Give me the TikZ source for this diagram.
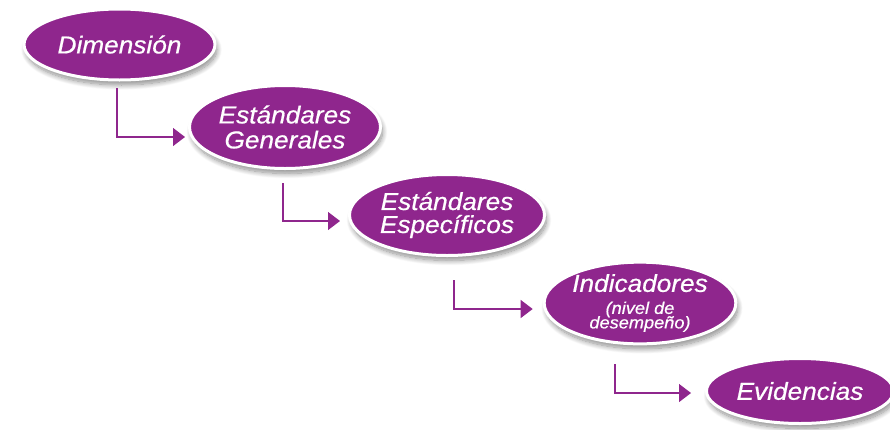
\documentclass[tikz,border=0pt]{standalone}
\usepackage{fontspec}
\setmainfont{Liberation Sans}[FakeStretch=1.07,FakeBold=0.6]
\usetikzlibrary{arrows.meta,shapes.geometric,shadows.blur}
\definecolor{lila}{RGB}{143,38,141}
\newcommand\smalltxt{\fontsize{17}{13}\selectfont}
\newcommand\tightlines{\lineskiplimit=-30pt\relax\lineskip=0pt\relax}
\tikzset{
  oval/.style={ellipse, fill=lila, draw=white, line width=3pt, inner sep=0pt,
    text=white, align=center,
    font=\itshape\fontsize{24.5}{24}\selectfont\tightlines,
    blur shadow={shadow xshift=2pt, shadow yshift=-5pt, shadow opacity=45, shadow blur steps=12, shadow blur radius=5pt}},
  conn/.style={draw=lila, line width=1.2pt, -{Triangle[length=12pt,width=18pt]}},
}
\begin{document}
\begin{tikzpicture}[x=1pt,y=-1pt]
\useasboundingbox (0,0) rectangle (890,429);
\node[oval, minimum width=191pt, minimum height=71pt] (d1) at (119.5,44.5) {Dimensión};
\node[oval, minimum width=191pt, minimum height=83pt] (d2) at (285,127) {Estándares\\[1pt]Generales};
\node[oval, minimum width=195pt, minimum height=81pt] (d3) at (447,215) {Estándares\\[-1pt]Específicos};
\node[oval, minimum width=191pt, minimum height=79pt] (d4) at (640,303) {Indicadores\\[-2pt]{\smalltxt (nivel de}\\[-9.5pt]{\smalltxt desempeño)}};
\node[oval, minimum width=187pt, minimum height=65pt] (d5) at (800,391) {Evidencias};
\coordinate (s1) at (117,88);
\coordinate (s2) at (283,183);
\coordinate (s3) at (454,280);
\coordinate (s4) at (615,364);
\draw[conn] (s1) |- ([xshift=-3pt,yshift=-10pt]d2.west);
\draw[conn] (s2) |- ([xshift=-8pt,yshift=-6pt]d3.west);
\draw[conn] (s3) |- ([xshift=-10pt,yshift=-6pt]d4.west);
\draw[conn] (s4) |- ([xshift=-14pt,yshift=-2pt]d5.west);
\end{tikzpicture}
\end{document}
